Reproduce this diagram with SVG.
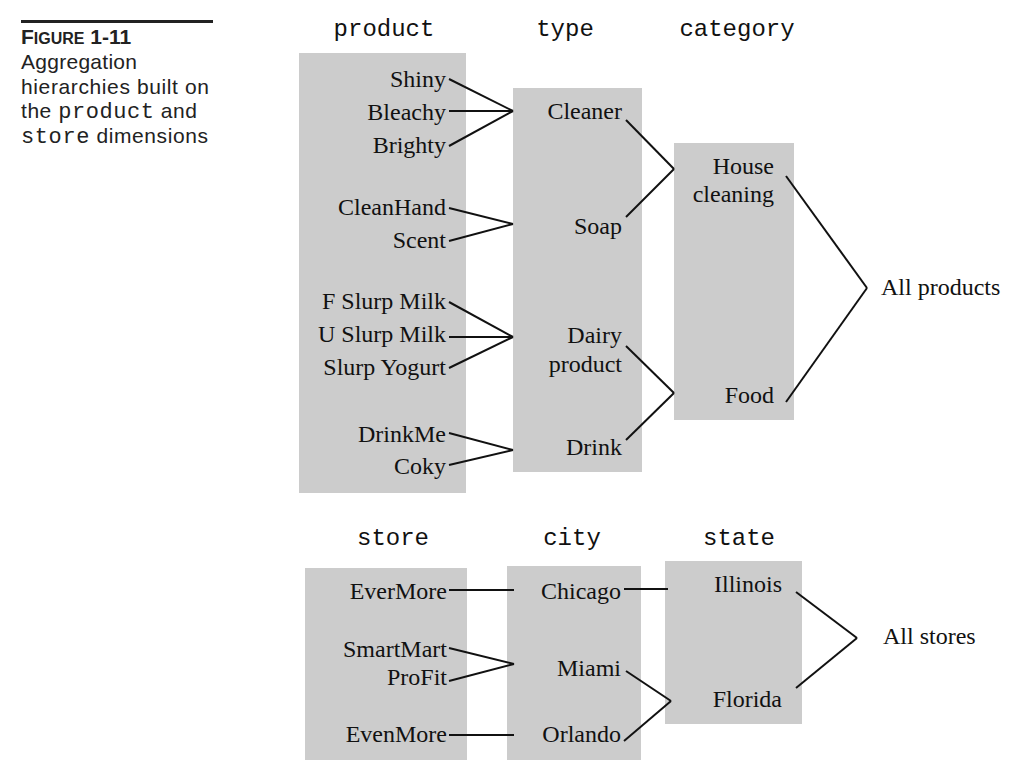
<svg xmlns="http://www.w3.org/2000/svg" width="1018" height="782" viewBox="0 0 1018 782">
<style>
.box{fill:#cccccc}
.lbl{font-family:"Liberation Serif","Times New Roman",serif;font-size:24px;fill:#111}
.r{text-anchor:end}
.hdr{font-family:"Liberation Mono","Courier New",monospace;font-size:24px;fill:#111;text-anchor:middle}
.cap{font-family:"Liberation Sans",Arial,sans-serif;font-size:21px;fill:#222}
.mono{font-family:"Liberation Mono","Courier New",monospace;font-size:22px}
.conn line{stroke:#111;stroke-width:2;fill:none}
</style>
<rect width="1018" height="782" fill="#ffffff"/>
<g id="caption">
<rect x="21" y="20" width="192" height="3" fill="#222"/>
<text class="cap" x="21" y="44" font-weight="bold">F<tspan font-size="16">IGURE</tspan> 1-11</text>
<text class="cap" x="21" y="69" textLength="116">Aggregation</text>
<text class="cap" x="21" y="94" textLength="188">hierarchies built on</text>
<text class="cap" x="21" y="118" textLength="176">the <tspan class="mono">product</tspan> and</text>
<text class="cap" x="21" y="143" textLength="187"><tspan class="mono">store</tspan> dimensions</text>
</g>
<g id="headers">
<text class="hdr" x="384" y="36">product</text>
<text class="hdr" x="565" y="36">type</text>
<text class="hdr" x="737" y="36">category</text>
<text class="hdr" x="393" y="545">store</text>
<text class="hdr" x="572" y="545">city</text>
<text class="hdr" x="739" y="545">state</text>
</g>
<g id="product">
<rect class="box" x="299" y="53" width="167" height="440"/>
<text class="lbl r" x="446" y="87">Shiny</text>
<text class="lbl r" x="446" y="120">Bleachy</text>
<text class="lbl r" x="446" y="153">Brighty</text>
<text class="lbl r" x="446" y="215">CleanHand</text>
<text class="lbl r" x="446" y="248">Scent</text>
<text class="lbl r" x="446" y="309">F Slurp Milk</text>
<text class="lbl r" x="446" y="342">U Slurp Milk</text>
<text class="lbl r" x="446" y="375">Slurp Yogurt</text>
<text class="lbl r" x="446" y="442">DrinkMe</text>
<text class="lbl r" x="446" y="474">Coky</text>
</g>
<g id="type">
<rect class="box" x="513" y="88" width="129" height="384"/>
<text class="lbl r" x="622" y="119">Cleaner</text>
<text class="lbl r" x="622" y="234">Soap</text>
<text class="lbl r" x="622" y="343">Dairy</text>
<text class="lbl r" x="622" y="372">product</text>
<text class="lbl r" x="622" y="455">Drink</text>
</g>
<g id="category">
<rect class="box" x="674" y="143" width="120" height="277"/>
<text class="lbl r" x="774" y="174">House</text>
<text class="lbl r" x="774" y="202">cleaning</text>
<text class="lbl r" x="774" y="403">Food</text>
</g>
<g id="all-products">
<text class="lbl" x="881" y="295">All products</text>
</g>
<g id="store">
<rect class="box" x="305" y="568" width="162" height="192"/>
<text class="lbl r" x="447" y="599">EverMore</text>
<text class="lbl r" x="447" y="657">SmartMart</text>
<text class="lbl r" x="447" y="685">ProFit</text>
<text class="lbl r" x="447" y="742">EvenMore</text>
</g>
<g id="city">
<rect class="box" x="507" y="566" width="134" height="194"/>
<text class="lbl r" x="621" y="599">Chicago</text>
<text class="lbl r" x="621" y="676">Miami</text>
<text class="lbl r" x="621" y="742">Orlando</text>
</g>
<g id="state">
<rect class="box" x="665" y="561" width="137" height="163"/>
<text class="lbl r" x="782" y="592">Illinois</text>
<text class="lbl r" x="782" y="707">Florida</text>
</g>
<g id="all-stores">
<text class="lbl" x="883" y="644">All stores</text>
</g>
<g id="connectors" class="conn">
<line x1="449" y1="79" x2="513" y2="111"/>
<line x1="449" y1="111" x2="513" y2="111"/>
<line x1="449" y1="146" x2="513" y2="111"/>
<line x1="449" y1="208" x2="513" y2="224"/>
<line x1="449" y1="241" x2="513" y2="224"/>
<line x1="449" y1="302" x2="513" y2="337"/>
<line x1="449" y1="337" x2="513" y2="337"/>
<line x1="449" y1="368" x2="513" y2="337"/>
<line x1="449" y1="433" x2="513" y2="450"/>
<line x1="449" y1="465" x2="513" y2="450"/>
<line x1="626" y1="120" x2="674" y2="169"/>
<line x1="626" y1="217" x2="674" y2="169"/>
<line x1="626" y1="346" x2="674" y2="393"/>
<line x1="626" y1="440" x2="674" y2="393"/>
<line x1="786" y1="176" x2="867" y2="288"/>
<line x1="786" y1="402" x2="867" y2="288"/>
<line x1="449" y1="590" x2="514" y2="590"/>
<line x1="449" y1="648" x2="514" y2="664"/>
<line x1="449" y1="681" x2="514" y2="664"/>
<line x1="449" y1="735" x2="514" y2="735"/>
<line x1="624" y1="589" x2="668" y2="589"/>
<line x1="626" y1="671" x2="671" y2="701"/>
<line x1="624" y1="741" x2="671" y2="701"/>
<line x1="796" y1="592" x2="857" y2="638"/>
<line x1="796" y1="688" x2="857" y2="638"/>
</g>
</svg>
